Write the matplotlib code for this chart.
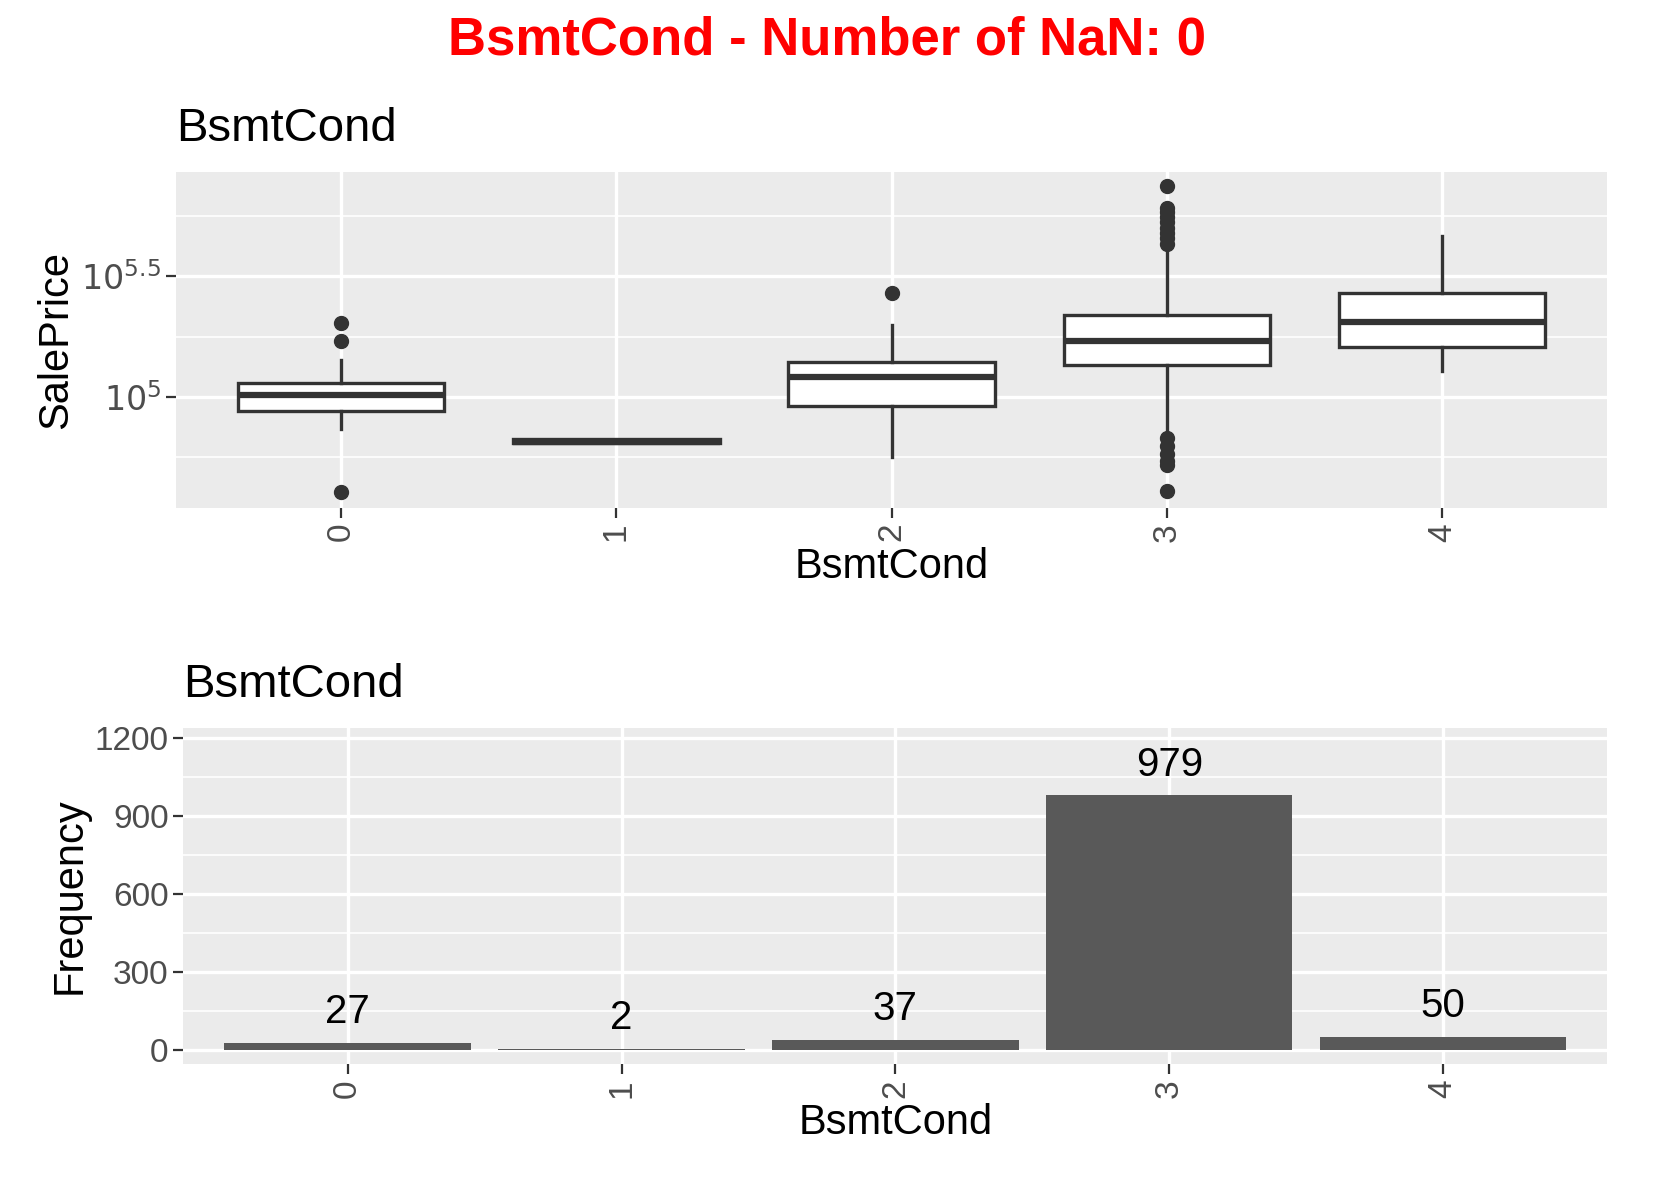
import numpy as np
import matplotlib.pyplot as plt

plt.rcParams['font.family'] = ['Liberation Sans', 'DejaVu Sans']

categories = ["0", "1", "2", "3", "4"]
# log10(SalePrice) box statistics
med = [5.009, 4.816, 5.083, 5.232, 5.311]
q1 = [4.943, 4.808, 4.965, 5.132, 5.206]
q3 = [5.057, 4.825, 5.145, 5.338, 5.430]
whislo = [4.868, 4.808, 4.750, 4.810, 5.110]
whishi = [5.154, 4.825, 5.298, 5.640, 5.667]
fliers = [
    [5.307, 5.232, 4.605],
    [],
    [5.430],
    [5.636, 5.658, 5.680, 5.702, 5.724, 5.746, 5.768, 5.785, 5.873,
     4.829, 4.798, 4.763, 4.737, 4.719, 4.610],
    [],
]
counts = [27, 2, 37, 979, 50]

GREY = "#EBEBEB"
fig = plt.figure(figsize=(16.53, 11.81), dpi=100)
W, H = 1560, 1115  # coordinates measured on the displayed reference
ax1 = fig.add_axes([166 / W, 1 - 480 / H, (1517 - 166) / W, (480 - 162) / H])
ax2 = fig.add_axes([173 / W, 1 - 1005 / H, (1517 - 173) / W, (1005 - 687) / H])

def style(ax):
    ax.set_facecolor(GREY)
    for s in ax.spines.values():
        s.set_visible(False)
    ax.grid(True, which="major", color="white", lw=2.4)
    ax.grid(True, which="minor", axis="y", color="white", lw=1.2)
    ax.set_axisbelow(True)
    ax.tick_params(axis="both", which="major", colors="#333333", length=7, width=1.6,
                   labelsize=24, labelcolor="#4D4D4D")
    ax.tick_params(axis="y", which="minor", length=0)
    ax.tick_params(axis="x", labelrotation=90)

stats = []
for i in range(5):
    stats.append(dict(med=med[i], q1=q1[i], q3=q3[i], whislo=whislo[i],
                      whishi=whishi[i], fliers=fliers[i]))
ax1.bxp(stats, positions=range(5), widths=0.75, patch_artist=True,
        boxprops=dict(facecolor="white", edgecolor="#333333", lw=2.4),
        medianprops=dict(color="#333333", lw=4.5),
        whiskerprops=dict(color="#333333", lw=2.4), capprops=dict(lw=0),
        flierprops=dict(marker="o", markerfacecolor="#333333", markeredgecolor="#333333",
                        markersize=10))
ax1.set_xlim(-0.6, 4.6)
ax1.set_ylim(4.539, 5.934)
ax1.set_xticks(range(5), categories)
ax1.set_yticks([5, 5.5], [r"$10^{5}$", r"$10^{5.5}$"])
ax1.set_yticks([4.75, 5.25, 5.75], minor=True)
style(ax1)
ax1.set_ylabel("SalePrice", fontsize=30)
ax1.set_xlabel("BsmtCond", fontsize=30, labelpad=4)
ax1.set_title("BsmtCond", fontsize=34, loc="left", pad=22)

x = np.arange(5)
ax2.bar(x, counts, width=0.9, color="#595959")
for xi, c in zip(x, counts):
    ax2.text(xi, c + 45, str(c), ha="center", va="bottom", fontsize=29)
ax2.set_xlim(-0.6, 4.6)
ax2.set_ylim(-57, 1240)
ax2.set_xticks(range(5), categories)
ax2.set_yticks([0, 300, 600, 900, 1200])
ax2.set_yticks([150, 450, 750, 1050], minor=True)
style(ax2)
ax2.set_ylabel("Frequency", fontsize=30)
ax2.set_xlabel("BsmtCond", fontsize=30, labelpad=4)
ax2.set_title("BsmtCond", fontsize=34, loc="left", pad=22)

fig.text(0.5, 1 - 38 / H, "BsmtCond - Number of NaN: 0", color="red", fontsize=38,
         fontweight="bold", ha="center", va="center")

fig.savefig("out.png", dpi=100)
